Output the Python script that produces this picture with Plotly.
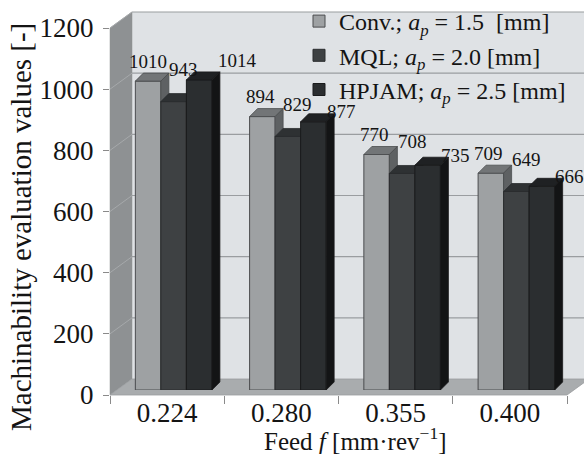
import plotly.graph_objects as go

# ---------------- data ----------------
feeds = ["0.224", "0.280", "0.355", "0.400"]
conv = [1010, 894, 770, 709]
mql = [943, 829, 708, 649]
hpjam = [1014, 877, 735, 666]
series_names = [
    "Conv.; <i>a<sub>p</sub></i> = 1.5\u00a0\u00a0[mm]",
    "MQL; <i>a<sub>p</sub></i> = 2.0 [mm]",
    "HPJAM; <i>a<sub>p</sub></i> = 2.5 [mm]",
]
y_ticks = [0, 200, 400, 600, 800, 1000, 1200]
y_title = "Machinability evaluation values [-]"
x_title = "Feed <i>f</i> [mm\u00b7rev<sup>\u22121</sup>]"

# ---------------- layout geometry (pixels) ----------------
W, H = 584, 454
ML, MR, MT, MB = 110, 0, 0, 59
PW, PH = W - ML - MR, H - MT - MB
FRONT_W, FRONT_H = 457, 367          # front plane of the 3-D box
WALL_DX, WALL_DY = 22, 16            # depth offset of the back wall
BAR_SX, BAR_SY = 6.5, 5              # bar front faces sit a bit inside the box
BAR_DX_PX, BAR_DY_PX = 8, 8          # bar depth
BARGAP = 0.33
FONT = "Liberation Serif"
TXT = "#141414"

styles = [
    dict(front="#9ea1a3", top="#727577", side="#5e6163", line="#4a4c4e"),
    dict(front="#3e4143", top="#2e3133", side="#232527", line="#2a2c2e"),
    dict(front="#2b2e30", top="#1f2123", side="#131415", line="#1a1b1c"),
]
# label pixel shifts per series: (when bar is tallest in its group, otherwise)
label_shift = [((-2, 12), (0, 12)), ((10, 24), (10, 24)), ((38, 11), (28, 2))]

ymax = y_ticks[-1]
ncat = len(feeds)
xs = list(range(ncat))
bw = (1 - BARGAP) / 3
bdx = BAR_DX_PX / (FRONT_W / ncat)
bdy = BAR_DY_PX * ymax / FRONT_H
all_series = [conv, mql, hpjam]
group_max = [max(s[k] for s in all_series) for k in range(ncat)]

fig = go.Figure()

# invisible trace to define the category axis (front plane)
fig.add_trace(go.Scatter(x=feeds, y=[0] * ncat, mode="markers", marker=dict(opacity=0),
                         showlegend=False, hoverinfo="skip", xaxis="x", yaxis="y"))

annotations = []
for i, (name, vals) in enumerate(zip(series_names, all_series)):
    st = styles[i]
    off = -1.5 * bw + i * bw
    fig.add_trace(go.Bar(
        x=xs, y=vals, width=bw, offset=off, name=name,
        marker=dict(color=st["front"], line=dict(color=st["line"], width=1)),
        xaxis="x2", yaxis="y2", zorder=2 * i,
    ))
    fx, fy = [], []
    for xc, v in zip(xs, vals):
        a = xc + off
        b = a + bw
        fx += [a, b, b + bdx, a + bdx, a, None]
        fy += [v, v, v + bdy, v + bdy, v, None]
    fig.add_trace(go.Scatter(x=fx, y=fy, mode="lines", fill="toself", fillcolor=st["top"],
                             line=dict(color=st["line"], width=0.8), showlegend=False,
                             hoverinfo="skip", xaxis="x2", yaxis="y2", zorder=2 * i + 1))
    sx, sy = [], []
    for xc, v in zip(xs, vals):
        b = xc + off + bw
        sx += [b, b, b + bdx, b + bdx, b, None]
        sy += [0, v, v + bdy, bdy, 0, None]
    fig.add_trace(go.Scatter(x=sx, y=sy, mode="lines", fill="toself", fillcolor=st["side"],
                             line=dict(color=st["line"], width=0.8), showlegend=False,
                             hoverinfo="skip", xaxis="x2", yaxis="y2", zorder=2 * i + 1))
    for k, (xc, v) in enumerate(zip(xs, vals)):
        shx, shy = label_shift[i][0] if v == group_max[k] else label_shift[i][1]
        annotations.append(dict(
            x=xc + off + bw / 2, y=v + bdy, xref="x2", yref="y2", text=str(v),
            showarrow=False, xanchor="center", yanchor="middle",
            xshift=shx, yshift=shy,
            font=dict(family=FONT, size=19, color=TXT),
        ))

# ---------------- walls / floor (decoration) ----------------
dxw = WALL_DX / FRONT_W
dyw = WALL_DY / FRONT_H
xr = (PW + 10) / FRONT_W
shapes = []
ref = dict(xref="x domain", yref="y domain", layer="below")
shapes.append(dict(type="rect", x0=dxw, x1=xr, y0=dyw, y1=1 + dyw,
                   fillcolor="#dfe2e5", line=dict(width=0), **ref))
shapes.append(dict(type="path", path=f"M0,0 L{dxw},{dyw} L{dxw},{1 + dyw} L0,1 Z",
                   fillcolor="#8e9193", line=dict(color="#8e9193", width=0.5), **ref))
for v in y_ticks[1:]:
    f = v / ymax
    shapes.append(dict(type="line", x0=dxw, x1=xr, y0=f + dyw, y1=f + dyw,
                       line=dict(color="#9a9da0", width=1.2), **ref))
    shapes.append(dict(type="line", x0=0, x1=dxw, y0=f, y1=f + dyw,
                       line=dict(color="#a6a9ab", width=1), **ref))
shapes.append(dict(type="path", path=f"M0,0 L1,0 L{1 + dxw},{dyw} L{dxw},{dyw} Z",
                   fillcolor="#a9acae", line=dict(color="#9a9da0", width=0.8), **ref))

# ---------------- titles ----------------
annotations.append(dict(x=(21 - ML) / PW, y=(PH - 227) / PH, xref="paper", yref="paper",
                        text=y_title, textangle=-90, showarrow=False,
                        xanchor="center", yanchor="middle",
                        font=dict(family=FONT, size=29, color=TXT)))
annotations.append(dict(x=(355 - ML) / PW, y=(PH - 439) / PH, xref="paper", yref="paper",
                        text=x_title, showarrow=False, xanchor="center", yanchor="middle",
                        font=dict(family=FONT, size=25, color=TXT)))

fig.update_layout(
    width=W, height=H,
    margin=dict(l=ML, r=MR, t=MT, b=MB, pad=0, autoexpand=False),
    paper_bgcolor="white", plot_bgcolor="rgba(0,0,0,0)",
    barmode="overlay",
    showlegend=True,
    legend=dict(x=(299 - ML) / PW, y=1 + 1 / PH, xanchor="left", yanchor="top",
                bgcolor="rgba(0,0,0,0)", font=dict(family=FONT, size=24, color=TXT),
                tracegroupgap=0),
    xaxis=dict(domain=[0, FRONT_W / PW], type="category", categoryorder="array",
               categoryarray=feeds, range=[-0.5, ncat - 0.5], tickson="boundaries",
               ticks="outside", ticklen=8, tickcolor="#8a8a8a", showline=True,
               linecolor="#9a9da0", linewidth=1, showgrid=False, zeroline=False,
               ticklabelstandoff=-6,
               tickfont=dict(family=FONT, size=27, color=TXT), anchor="y", fixedrange=True),
    yaxis=dict(domain=[0, FRONT_H / PH], range=[0, ymax], tickvals=y_ticks,
               ticks="outside", ticklen=6, tickcolor="#8a8a8a", showline=True,
               linecolor="#8e9193", linewidth=1, showgrid=False, zeroline=False,
               ticklabelstandoff=4,
               tickfont=dict(family=FONT, size=27, color=TXT), anchor="x", fixedrange=True),
    xaxis2=dict(domain=[BAR_SX / PW, (BAR_SX + FRONT_W) / PW], range=[-0.5, ncat - 0.5],
                visible=False, anchor="y2", fixedrange=True),
    yaxis2=dict(domain=[BAR_SY / PH, (BAR_SY + FRONT_H) / PH], range=[0, ymax],
                visible=False, anchor="x2", fixedrange=True),
    shapes=shapes,
    annotations=annotations,
)

fig.write_html("out.html")
